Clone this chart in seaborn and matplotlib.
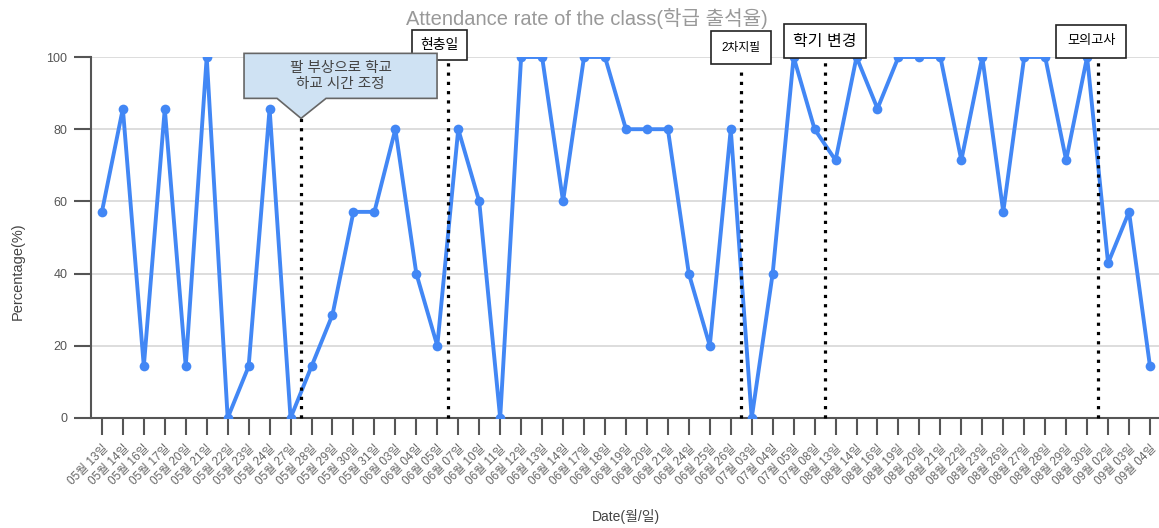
import matplotlib
matplotlib.use("Agg")
import matplotlib.pyplot as plt
import matplotlib.transforms as mtransforms
from matplotlib.patches import Polygon
import seaborn as sns
import pandas as pd

# Attendance data (date label, percentage)
dates = [
    "05월 13일", "05월 14일", "05월 16일", "05월 17일", "05월 20일", "05월 21일",
    "05월 22일", "05월 23일", "05월 24일", "05월 27일", "05월 28일", "05월 29일",
    "05월 30일", "05월 31일", "06월 03일", "06월 04일", "06월 05일", "06월 07일",
    "06월 10일", "06월 11일", "06월 12일", "06월 13일", "06월 14일", "06월 17일",
    "06월 18일", "06월 19일", "06월 20일", "06월 21일", "06월 24일", "06월 25일",
    "06월 26일", "07월 03일", "07월 04일", "07월 05일", "07월 08일", "08월 13일",
    "08월 14일", "08월 16일", "08월 19일", "08월 20일", "08월 21일", "08월 22일",
    "08월 23일", "08월 26일", "08월 27일", "08월 28일", "08월 29일", "08월 30일",
    "09월 02일", "09월 03일", "09월 04일",
]
rates = [
    57.1, 85.7, 14.3, 85.7, 14.3, 100, 0, 14.3, 85.7, 0, 14.3, 28.6,
    57.1, 57.1, 80, 40, 20, 80, 60, 0, 100, 100, 60, 100,
    100, 80, 80, 80, 40, 20, 80, 0, 40, 100, 80, 71.4,
    100, 85.7, 100, 100, 100, 71.4, 100, 57.1, 100, 100, 71.4, 100,
    42.9, 57.1, 14.3,
]

# Events: (label drawn after this date, text, top of the marker line)
event_after = ["05월 27일", "06월 05일", "06월 26일", "07월 08일", "08월 30일"]
event_text = ["팔 부상으로 학교\n하교 시간 조정", "현충일", "2차지필", "학기 변경", "모의고사"]
event_top = [83, 100, 96.5, 99, 99]

sns.set_theme(style="white")
plt.rcParams["font.family"] = ["Liberation Sans", "Noto Sans CJK KR"]

df = pd.DataFrame({"date": dates, "rate": rates})

W, H = 1159, 528
fig = plt.figure(figsize=(W / 100, H / 100), dpi=100)
ax = fig.add_axes([91 / W, 1 - 418 / H, 1 - 91 / W, (418 - 57) / H])

blue = "#4287f5"
sns.lineplot(data=df, x="date", y="rate", sort=False, ax=ax, color=blue,
             linewidth=2.8, marker="o", markersize=7, markeredgewidth=0,
             zorder=3)

ax.set_ylim(0, 100)
ax.set_xlim(-0.52, len(dates) - 0.57)
ax.set_yticks([0, 20, 40, 60, 80, 100])
ax.yaxis.grid(True, color="#dddddd", linewidth=1.4)
ax.xaxis.grid(False)
for side in ["top", "right"]:
    ax.spines[side].set_visible(False)
for side in ["left", "bottom"]:
    ax.spines[side].set_color("#555555")
    ax.spines[side].set_linewidth(1.5)

ax.tick_params(axis="both", which="major", direction="out", length=12,
               width=1.5, color="#555555", labelcolor="#555555",
               left=True, bottom=True)
ax.tick_params(axis="y", labelsize=9, pad=5)
ax.tick_params(axis="x", pad=6)
ax.set_xticks(range(len(dates)))
ax.set_xticklabels(dates, rotation=45, ha="right", rotation_mode="anchor",
                   fontsize=8.5, color="#666666")

ax.set_xlabel("")
ax.set_ylabel("")
fig.text(626 / W, 1 - 517 / H, "Date(월/일)", ha="center", va="center",
         fontsize=10, color="#444444")
fig.text(18 / W, 1 - 271 / H, "Percentage(%)", ha="center", va="center",
         rotation=90, fontsize=10.5, color="#444444")

fig.text(587 / W, 1 - 18 / H, "Attendance rate of the class(학급 출석율)",
         ha="center", va="center", fontsize=14.5, color="#999999")

# Event marker lines
event_pos = [dates.index(d) + 0.5 for d in event_after]
for x, top in zip(event_pos, event_top):
    ax.vlines(x, 0, top, colors="black", linestyles=(0, (1, 1.9)),
              linewidth=2.3, zorder=4, clip_on=False)

# Callout for the first event (box with a pointer down to the line)
tip_x, tip_y = event_pos[0], event_top[0]
trans = fig.dpi_scale_trans + mtransforms.ScaledTranslation(tip_x, tip_y, ax.transData)
verts = [(-0.57, 0.20), (-0.24, 0.20), (0.0, 0.0), (0.25, 0.20), (1.36, 0.20),
         (1.36, 0.65), (-0.57, 0.65)]
callout = Polygon(verts, closed=True, transform=trans, facecolor="#cfe2f3",
                  edgecolor="#666666", linewidth=1.2, clip_on=False, zorder=5)
fig.add_artist(callout)
fig.text(0.395, 0.425, event_text[0], transform=trans, ha="center", va="center",
         fontsize=10.5, color="#444444", linespacing=1.2, zorder=6)

# Boxed labels for the other events
label_y = [None, 103.3, 102.6, 104.4, 104.4]
label_dx = [0, -0.4, 0, 0, -0.3]
label_size = [None, 10, 8.5, 11.5, 9.5]
label_pad = [None, 0.6, 0.9, 0.6, 0.8]
for i in range(1, len(event_text)):
    ax.text(event_pos[i] + label_dx[i], label_y[i], event_text[i],
            ha="center", va="center", fontsize=label_size[i], color="black",
            clip_on=False, zorder=6,
            bbox=dict(boxstyle=f"square,pad={label_pad[i]}", facecolor="white",
                      edgecolor="#222222", linewidth=1.2))

fig.savefig("out.png", dpi=100)
